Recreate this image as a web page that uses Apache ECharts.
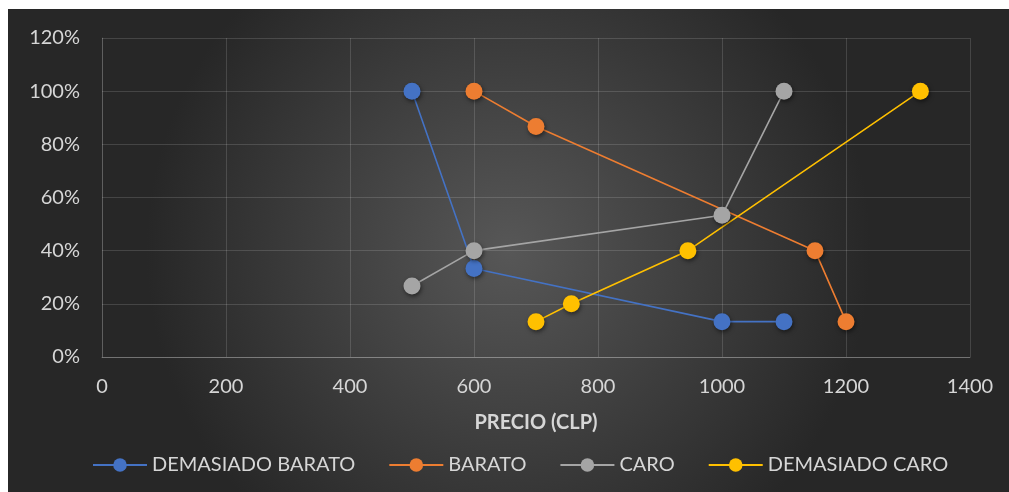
<!DOCTYPE html>
<html>
<head>
<meta charset="utf-8">
<script src="https://cdn.jsdelivr.net/npm/echarts@6/dist/echarts.min.js"></script>
<style>
  html, body { margin: 0; padding: 0; background: #fff; }
  #chart { position: absolute; left: 8px; top: 9px; width: 1001px; height: 483px; }
</style>
</head>
<body>
<div id="chart"></div>
<script>
// precio (CLP) y porcentaje acumulado por serie
const seriesNames = ['DEMASIADO BARATO', 'BARATO', 'CARO', 'DEMASIADO CARO'];
const colors = ['#4472c4', '#ed7d31', '#a5a5a5', '#ffc000'];

const demasiadoBaratoX = [500, 600, 1000, 1100];
const demasiadoBaratoY = [1.0, 0.333, 0.133, 0.133];

const baratoX = [600, 700, 1150, 1200];
const baratoY = [1.0, 0.867, 0.4, 0.133];

const caroX = [500, 600, 1000, 1100];
const caroY = [0.267, 0.4, 0.533, 1.0];

const demasiadoCaroX = [700, 757, 945, 1320];
const demasiadoCaroY = [0.133, 0.2, 0.4, 1.0];

const xs = [demasiadoBaratoX, baratoX, caroX, demasiadoCaroX];
const ys = [demasiadoBaratoY, baratoY, caroY, demasiadoCaroY];

const chart = echarts.init(document.getElementById('chart'));

let series = [];
for (let i = 0; i < seriesNames.length; ++i) {
    let pts = xs[i].map((x, j) => [x, ys[i][j]]);
    series.push({
        name: seriesNames[i],
        type: 'line',
        data: pts,
        symbol: 'circle',
        symbolSize: 17,
        lineStyle: { width: 1.6, color: colors[i] },
        itemStyle: {
            color: colors[i],
            shadowBlur: 4,
            shadowColor: 'rgba(0,0,0,0.5)',
            shadowOffsetX: 1,
            shadowOffsetY: 2
        },
        emphasis: { disabled: true },
        animation: false
    });
}

const labelColor = '#d6d6d6';
const gridColor = 'rgba(255,255,255,0.14)';

chart.setOption({
    backgroundColor: {
        type: 'radial', x: 0.5, y: 0.5, r: 0.75,
        colorStops: [
            { offset: 0, color: '#575757' },
            { offset: 1, color: '#272727' }
        ]
    },
    textStyle: { fontFamily: 'Lato' },
    grid: { left: 94, right: 39, top: 29, bottom: 135, containLabel: false },
    xAxis: {
        type: 'value',
        min: 0, max: 1400, interval: 200,
        name: 'PRECIO (CLP)',
        nameLocation: 'middle',
        nameGap: 56,
        nameTextStyle: { color: labelColor, fontSize: 20, fontWeight: 'bold' },
        axisLine: { show: true, lineStyle: { color: 'rgba(255,255,255,0.25)' } },
        axisTick: { show: false },
        axisLabel: { color: labelColor, fontSize: 20, margin: 20, formatter: v => String(v) },
        splitLine: { show: true, lineStyle: { color: gridColor } }
    },
    yAxis: {
        type: 'value',
        min: 0, max: 1.2, interval: 0.2,
        axisLine: { show: true, lineStyle: { color: gridColor } },
        axisTick: { show: false },
        axisLabel: {
            color: labelColor, fontSize: 20, margin: 22,
            formatter: v => Math.round(v * 100) + '%'
        },
        splitLine: { show: true, lineStyle: { color: gridColor } }
    },
    legend: {
        top: 441,
        left: 79,
        itemWidth: 54,
        itemHeight: 17,
        itemGap: 33,
        textStyle: { color: labelColor, fontSize: 20, padding: [0, 0, 0, 0] },
        data: seriesNames
    },
    series: series
});
</script>
</body>
</html>
